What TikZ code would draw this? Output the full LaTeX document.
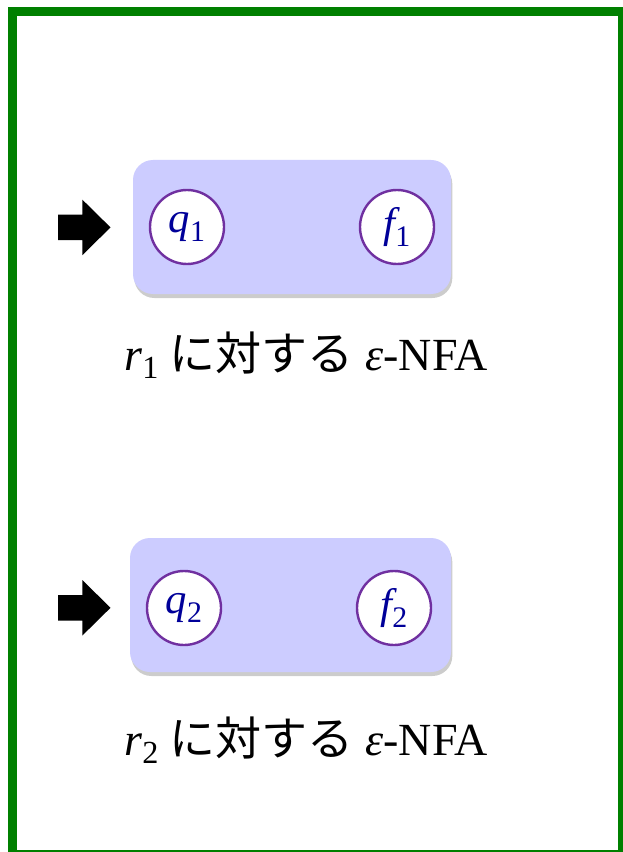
\documentclass[tikz,border=0pt]{standalone}
\usepackage{fontspec}
\setmainfont{Liberation Serif}
\newfontfamily\jpfont{Noto Sans CJK JP}
\usetikzlibrary{shadows}
\definecolor{frameg}{HTML}{008000}
\definecolor{boxfill}{HTML}{CCCCFF}
\definecolor{statepurple}{HTML}{7030A0}
\definecolor{statetext}{HTML}{000099}
\newcommand\lowsub[2][0.22em]{\raisebox{-#1}{\scalebox{0.7}{#2}}}
\newcommand\statelabel[2]{\raisebox{-3pt}{#1\lowsub{\upshape #2}}}
\begin{document}
\begin{tikzpicture}[x=0.75pt,y=-0.75pt,
  frame/.style={draw=frameg,line width=6.75pt},
  nfabox/.style={fill=boxfill,rounded corners=15pt,inner sep=0pt,
    minimum height=100.5pt,
    drop shadow={shadow xshift=1pt,shadow yshift=-3pt,opacity=0.2,fill=black}},
  state/.style={circle,draw=statepurple,line width=1.8pt,fill=white,
    minimum size=55.5pt,inner sep=0pt,text=statetext,
    font=\fontsize{32}{33}\selectfont\itshape},
  caption/.style={anchor=base,font=\fontsize{34.5}{36}\selectfont},
  startarrow/.pic={\fill[black] (0,-12.7) -- (24.4,-12.7) -- (24.4,-27.7)
    -- (52.5,0) -- (24.4,27.7) -- (24.4,12.7) -- (0,12.7) -- cycle;}
]
\useasboundingbox (0,0) rectangle (623,852);
\fill[white] (0,0) rectangle (623,852);
\draw[frame] (12,11.5) rectangle (622.5,854.5);

% first NFA
\node[nfabox,minimum width=238.5pt] (box1) at (292,227) {};
\node[state] (q1) at (187,227) {\statelabel{q}{1}};
\node[state] (f1) at (397,227) {\statelabel{f}{1}};
\pic at (58,227.4) {startarrow};
\node[caption] (cap1) at (306,370) {{\itshape r}\lowsub[0.18em]{1} {\jpfont に対する} {\itshape ε}-NFA};

% second NFA
\node[nfabox,minimum width=240.75pt] (box2) at (290.5,605) {};
\node[state] (q2) at (184,608) {\statelabel{q}{2}};
\node[state] (f2) at (394,608) {\statelabel{f}{2}};
\pic at (58,607.8) {startarrow};
\node[caption] (cap2) at (306,755) {{\itshape r}\lowsub[0.18em]{2} {\jpfont に対する} {\itshape ε}-NFA};
\end{tikzpicture}
\end{document}
